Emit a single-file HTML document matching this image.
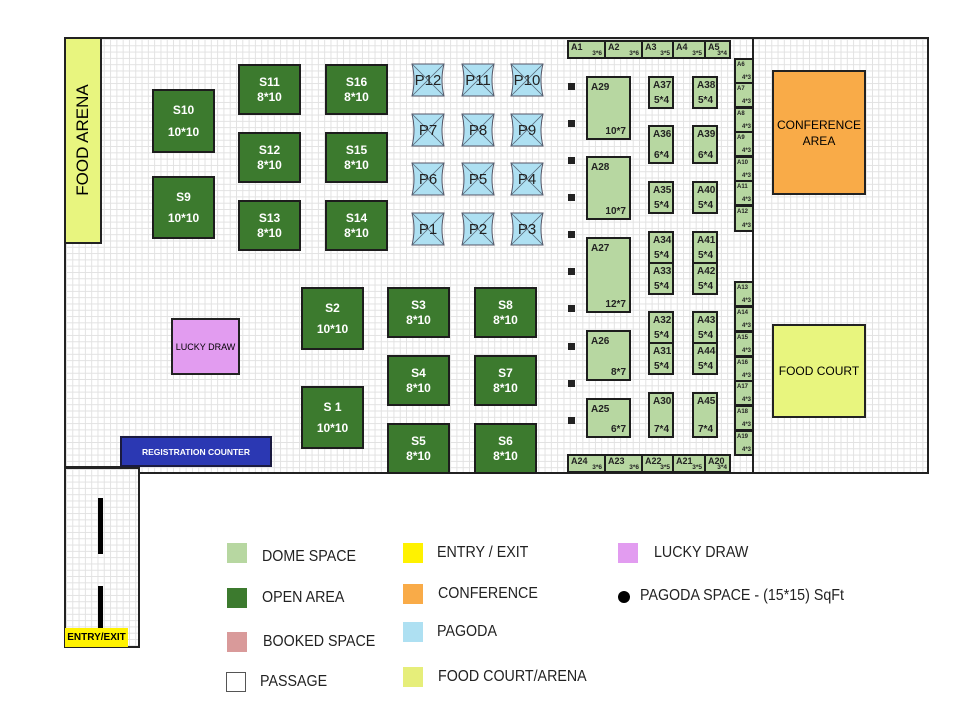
<!DOCTYPE html>
<html><head><meta charset="utf-8"><style>
*{margin:0;padding:0;box-sizing:border-box}
body{width:970px;height:720px;background:#fff;position:relative;overflow:hidden;font-family:"Liberation Sans",sans-serif}
.g{position:absolute;background-color:#fff;background-image:linear-gradient(#e2e2e2 1px,transparent 1px),linear-gradient(90deg,#e2e2e2 1px,transparent 1px);background-size:6.3px 6.3px}
.a{position:absolute}
.s{position:absolute;background:#3c7a2e;border:2px solid #1d1d1d;color:#fff;font-weight:bold;font-size:12px;display:flex;flex-direction:column;align-items:center;justify-content:space-around;padding:8px 0;text-align:center}
.d{position:absolute;background:#b7d7a1;border:2px solid #1d1d1d;font-size:10px;font-weight:bold;color:#222}
.d .n{position:absolute;left:3px;top:2px}
.d .z{position:absolute;right:3px;bottom:1px}
.d.sm{font-size:6px}
.d.sm .n{font-size:6px}
.d.r .n{font-size:9px;left:2px;top:0}
.d.r .z{font-size:6.5px;right:2px;bottom:0}
.sq{position:absolute;width:7px;height:7px;background:#222}
.lg{position:absolute;width:20px;height:20px}
.lt{position:absolute;font-size:15.5px;color:#222;transform:scaleX(0.92);transform-origin:left}
</style></head><body>
<div class="g" style="left:64px;top:37px;width:865px;height:436px;border:2px solid #222;border-bottom:none"></div>
<div class="g" style="left:64px;top:467px;width:76px;height:181px;border:2px solid #222"></div>
<div class="a" style="left:64px;top:466px;width:60px;height:2px;background:#222"></div>
<div class="a" style="left:139px;top:472px;width:790px;height:2px;background:#222"></div>
<div class="a" style="left:138px;top:472px;width:2px;height:176px;background:#222"></div>
<div class="a" style="left:752px;top:37px;width:2px;height:436px;background:#222"></div>
<div class="a" style="left:98px;top:498px;width:5px;height:56px;background:#000"></div>
<div class="a" style="left:98px;top:586px;width:5px;height:42px;background:#000"></div>
<div class="a" style="left:65px;top:628px;width:63px;height:19px;background:#fff200;font-size:10px;font-weight:bold;display:flex;align-items:center;justify-content:center">ENTRY/EXIT</div>

<div class="a" style="left:64px;top:37px;width:38px;height:207px;background:#e8f57f;border:2px solid #222"></div>
<div class="a" style="left:83px;top:140px;transform:translate(-50%,-50%) rotate(-90deg);font-size:17px;white-space:nowrap">FOOD ARENA</div>

<div class="s" style="left:152px;top:89px;width:63px;height:64px"><span>S10</span><span>10*10</span></div>
<div class="s" style="left:152px;top:176px;width:63px;height:63px"><span>S9</span><span>10*10</span></div>
<div class="s" style="left:238px;top:64px;width:63px;height:51px"><span>S11</span><span>8*10</span></div>
<div class="s" style="left:238px;top:132px;width:63px;height:51px"><span>S12</span><span>8*10</span></div>
<div class="s" style="left:238px;top:200px;width:63px;height:51px"><span>S13</span><span>8*10</span></div>
<div class="s" style="left:325px;top:64px;width:63px;height:51px"><span>S16</span><span>8*10</span></div>
<div class="s" style="left:325px;top:132px;width:63px;height:51px"><span>S15</span><span>8*10</span></div>
<div class="s" style="left:325px;top:200px;width:63px;height:51px"><span>S14</span><span>8*10</span></div>
<div class="s" style="left:301px;top:287px;width:63px;height:63px"><span>S2</span><span>10*10</span></div>
<div class="s" style="left:301px;top:386px;width:63px;height:63px"><span>S 1</span><span>10*10</span></div>
<div class="s" style="left:387px;top:287px;width:63px;height:51px"><span>S3</span><span>8*10</span></div>
<div class="s" style="left:387px;top:355px;width:63px;height:51px"><span>S4</span><span>8*10</span></div>
<div class="s" style="left:387px;top:423px;width:63px;height:51px"><span>S5</span><span>8*10</span></div>
<div class="s" style="left:474px;top:287px;width:63px;height:51px"><span>S8</span><span>8*10</span></div>
<div class="s" style="left:474px;top:355px;width:63px;height:51px"><span>S7</span><span>8*10</span></div>
<div class="s" style="left:474px;top:423px;width:63px;height:51px"><span>S6</span><span>8*10</span></div>

<div class="a" style="left:171px;top:318px;width:69px;height:57px;background:#e29cf0;border:2px solid #222;font-size:9px;display:flex;align-items:center;justify-content:center">LUCKY DRAW</div>
<div class="a" style="left:120px;top:436px;width:152px;height:31px;background:#2b38b3;border:2px solid #1a1a40;color:#fff;font-size:8.5px;font-weight:bold;display:flex;align-items:center;justify-content:center">REGISTRATION COUNTER</div>

<svg class="a" style="left:0;top:0" width="970" height="720">
<g font-family="Liberation Sans,sans-serif" font-size="15" fill="#222" stroke="none">
<defs><g id="pg"><path d="M0,0 L32,0 Q28,16 32,32 L0,32 Q4,16 0,0Z" fill="#aee0f2" stroke="#556" stroke-width="1"/><path d="M0,0 L32,32 M32,0 L0,32" stroke="#567" stroke-width="0.8"/></g></defs>
<use href="#pg" x="412" y="64"/><use href="#pg" x="462" y="64"/><use href="#pg" x="511" y="64"/>
<use href="#pg" x="412" y="114"/><use href="#pg" x="462" y="114"/><use href="#pg" x="511" y="114"/>
<use href="#pg" x="412" y="163"/><use href="#pg" x="462" y="163"/><use href="#pg" x="511" y="163"/>
<use href="#pg" x="412" y="213"/><use href="#pg" x="462" y="213"/><use href="#pg" x="511" y="213"/>
<g text-anchor="middle">
<text x="428" y="85">P12</text><text x="478" y="85">P11</text><text x="527" y="85">P10</text>
<text x="428" y="135">P7</text><text x="478" y="135">P8</text><text x="527" y="135">P9</text>
<text x="428" y="184">P6</text><text x="478" y="184">P5</text><text x="527" y="184">P4</text>
<text x="428" y="234">P1</text><text x="478" y="234">P2</text><text x="527" y="234">P3</text>
</g>
<circle cx="624" cy="597" r="6" fill="#000"/>
</g></svg>

<div class="sq" style="left:568px;top:83px"></div><div class="sq" style="left:568px;top:120px"></div>
<div class="sq" style="left:568px;top:157px"></div><div class="sq" style="left:568px;top:194px"></div>
<div class="sq" style="left:568px;top:231px"></div><div class="sq" style="left:568px;top:268px"></div>
<div class="sq" style="left:568px;top:305px"></div><div class="sq" style="left:568px;top:343px"></div>
<div class="sq" style="left:568px;top:380px"></div><div class="sq" style="left:568px;top:417px"></div>

<div class="d r" style="left:567px;top:40px;width:39px;height:19px"><span class="n">A1</span><span class="z">3*6</span></div>
<div class="d r" style="left:604px;top:40px;width:39px;height:19px"><span class="n">A2</span><span class="z">3*6</span></div>
<div class="d r" style="left:641px;top:40px;width:33px;height:19px"><span class="n">A3</span><span class="z">3*5</span></div>
<div class="d r" style="left:672px;top:40px;width:34px;height:19px"><span class="n">A4</span><span class="z">3*5</span></div>
<div class="d r" style="left:704px;top:40px;width:27px;height:19px"><span class="n">A5</span><span class="z">3*4</span></div>

<div class="d r" style="left:567px;top:454px;width:39px;height:19px"><span class="n">A24</span><span class="z">3*6</span></div>
<div class="d r" style="left:604px;top:454px;width:39px;height:19px"><span class="n">A23</span><span class="z">3*6</span></div>
<div class="d r" style="left:641px;top:454px;width:33px;height:19px"><span class="n">A22</span><span class="z">3*5</span></div>
<div class="d r" style="left:672px;top:454px;width:34px;height:19px"><span class="n">A21</span><span class="z">3*5</span></div>
<div class="d r" style="left:704px;top:454px;width:27px;height:19px"><span class="n">A20</span><span class="z">3*4</span></div>

<div class="d" style="left:586px;top:76px;width:45px;height:64px"><span class="n" style="top:4px">A29</span><span class="z">10*7</span></div>
<div class="d" style="left:586px;top:156px;width:45px;height:64px"><span class="n" style="top:4px">A28</span><span class="z">10*7</span></div>
<div class="d" style="left:586px;top:237px;width:45px;height:76px"><span class="n" style="top:4px">A27</span><span class="z">12*7</span></div>
<div class="d" style="left:586px;top:330px;width:45px;height:51px"><span class="n" style="top:4px">A26</span><span class="z">8*7</span></div>
<div class="d" style="left:586px;top:398px;width:45px;height:40px"><span class="n" style="top:4px">A25</span><span class="z">6*7</span></div>

<div class="d" style="left:648px;top:76px;width:26px;height:33px"><span class="n">A37</span><span class="z">5*4</span></div>
<div class="d" style="left:648px;top:125px;width:26px;height:39px"><span class="n">A36</span><span class="z">6*4</span></div>
<div class="d" style="left:648px;top:181px;width:26px;height:33px"><span class="n">A35</span><span class="z">5*4</span></div>
<div class="d" style="left:648px;top:231px;width:26px;height:33px"><span class="n">A34</span><span class="z">5*4</span></div>
<div class="d" style="left:648px;top:262px;width:26px;height:33px"><span class="n">A33</span><span class="z">5*4</span></div>
<div class="d" style="left:648px;top:311px;width:26px;height:33px"><span class="n">A32</span><span class="z">5*4</span></div>
<div class="d" style="left:648px;top:342px;width:26px;height:33px"><span class="n">A31</span><span class="z">5*4</span></div>
<div class="d" style="left:648px;top:392px;width:26px;height:46px"><span class="n">A30</span><span class="z">7*4</span></div>
<div class="d" style="left:692px;top:76px;width:26px;height:33px"><span class="n">A38</span><span class="z">5*4</span></div>
<div class="d" style="left:692px;top:125px;width:26px;height:39px"><span class="n">A39</span><span class="z">6*4</span></div>
<div class="d" style="left:692px;top:181px;width:26px;height:33px"><span class="n">A40</span><span class="z">5*4</span></div>
<div class="d" style="left:692px;top:231px;width:26px;height:33px"><span class="n">A41</span><span class="z">5*4</span></div>
<div class="d" style="left:692px;top:262px;width:26px;height:33px"><span class="n">A42</span><span class="z">5*4</span></div>
<div class="d" style="left:692px;top:311px;width:26px;height:33px"><span class="n">A43</span><span class="z">5*4</span></div>
<div class="d" style="left:692px;top:342px;width:26px;height:33px"><span class="n">A44</span><span class="z">5*4</span></div>
<div class="d" style="left:692px;top:392px;width:26px;height:46px"><span class="n">A45</span><span class="z">7*4</span></div>

<div class="d sm" style="left:734px;top:58px;width:20px;height:26px"><span class="n" style="left:1px">A6</span><span class="z" style="right:1px">4*3</span></div>
<div class="d sm" style="left:734px;top:82px;width:20px;height:26px"><span class="n" style="left:1px">A7</span><span class="z" style="right:1px">4*3</span></div>
<div class="d sm" style="left:734px;top:107px;width:20px;height:26px"><span class="n" style="left:1px">A8</span><span class="z" style="right:1px">4*3</span></div>
<div class="d sm" style="left:734px;top:131px;width:20px;height:26px"><span class="n" style="left:1px">A9</span><span class="z" style="right:1px">4*3</span></div>
<div class="d sm" style="left:734px;top:156px;width:20px;height:26px"><span class="n" style="left:1px">A10</span><span class="z" style="right:1px">4*3</span></div>
<div class="d sm" style="left:734px;top:180px;width:20px;height:26px"><span class="n" style="left:1px">A11</span><span class="z" style="right:1px">4*3</span></div>
<div class="d sm" style="left:734px;top:205px;width:20px;height:27px"><span class="n" style="left:1px">A12</span><span class="z" style="right:1px">4*3</span></div>
<div class="d sm" style="left:734px;top:281px;width:20px;height:26px"><span class="n" style="left:1px">A13</span><span class="z" style="right:1px">4*3</span></div>
<div class="d sm" style="left:734px;top:306px;width:20px;height:26px"><span class="n" style="left:1px">A14</span><span class="z" style="right:1px">4*3</span></div>
<div class="d sm" style="left:734px;top:331px;width:20px;height:26px"><span class="n" style="left:1px">A15</span><span class="z" style="right:1px">4*3</span></div>
<div class="d sm" style="left:734px;top:356px;width:20px;height:26px"><span class="n" style="left:1px">A16</span><span class="z" style="right:1px">4*3</span></div>
<div class="d sm" style="left:734px;top:380px;width:20px;height:26px"><span class="n" style="left:1px">A17</span><span class="z" style="right:1px">4*3</span></div>
<div class="d sm" style="left:734px;top:405px;width:20px;height:26px"><span class="n" style="left:1px">A18</span><span class="z" style="right:1px">4*3</span></div>
<div class="d sm" style="left:734px;top:430px;width:20px;height:26px"><span class="n" style="left:1px">A19</span><span class="z" style="right:1px">4*3</span></div>

<div class="a" style="left:772px;top:70px;width:94px;height:125px;background:#f9ab48;border:2px solid #222;font-size:12px;display:flex;align-items:center;justify-content:center;text-align:center;line-height:16px">CONFERENCE<br>AREA</div>
<div class="a" style="left:772px;top:324px;width:94px;height:94px;background:#e8f57e;border:2px solid #222;font-size:12px;display:flex;align-items:center;justify-content:center">FOOD COURT</div>

<div class="lg" style="left:227px;top:543px;background:#b7d7a1"></div>
<div class="lg" style="left:227px;top:588px;background:#3c7a2e"></div>
<div class="lg" style="left:227px;top:632px;background:#d99a9a"></div>
<div class="lg" style="left:226px;top:672px;border:1px solid #555"></div>
<div class="lg" style="left:403px;top:543px;background:#fff200"></div>
<div class="lg" style="left:403px;top:584px;background:#f9ab48"></div>
<div class="lg" style="left:403px;top:622px;background:#aee0f2"></div>
<div class="lg" style="left:403px;top:667px;background:#e6ee7a"></div>
<div class="lg" style="left:618px;top:543px;background:#e29cf0"></div>
<div class="lt" style="left:262px;top:548px">DOME SPACE</div>
<div class="lt" style="left:262px;top:589px">OPEN AREA</div>
<div class="lt" style="left:263px;top:633px">BOOKED SPACE</div>
<div class="lt" style="left:260px;top:673px">PASSAGE</div>
<div class="lt" style="left:437px;top:544px">ENTRY / EXIT</div>
<div class="lt" style="left:438px;top:585px">CONFERENCE</div>
<div class="lt" style="left:437px;top:623px">PAGODA</div>
<div class="lt" style="left:438px;top:668px">FOOD COURT/ARENA</div>
<div class="lt" style="left:654px;top:544px">LUCKY DRAW</div>
<div class="lt" style="left:640px;top:587px">PAGODA SPACE - (15*15) SqFt</div>
</body></html>
